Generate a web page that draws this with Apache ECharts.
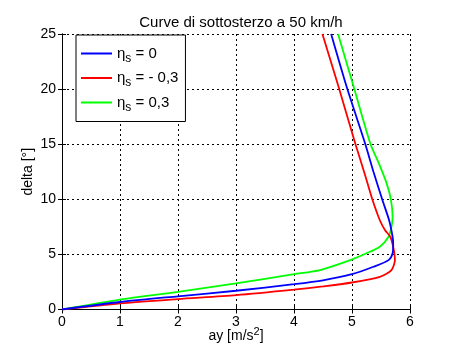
<!DOCTYPE html>
<html>
<head>
<meta charset="utf-8">
<script src="https://cdn.jsdelivr.net/npm/echarts@6/dist/echarts.min.js"></script>
<style>
html,body{margin:0;padding:0;background:#fff;}
#c{width:456px;height:349px;}
</style>
</head>
<body>
<div id="c"></div>
<script>
var titleText = 'Curve di sottosterzo a 50 km/h';
var xTicks = [0, 1, 2, 3, 4, 5, 6];
var yTicks = [0, 5, 10, 15, 20, 25];

var ayBlue    = [0, 1, 2, 3, 4, 4.5, 5.0, 5.37, 5.63, 5.70, 5.71, 5.70, 5.64, 5.52, 5.37, 5.23, 4.92, 4.64];
var deltaBlue = [0, 0.68, 1.2, 1.7, 2.3, 2.65, 3.2, 3.88, 4.48, 5.1, 6.0, 6.6, 8.1, 10, 12.5, 15, 20, 25];

var ayRed     = [0, 1, 2, 3, 4, 4.5, 5.0, 5.48, 5.68, 5.74, 5.71, 5.66, 5.57, 5.48, 5.35, 5.22, 5.06, 4.78, 4.49];
var deltaRed  = [0, 0.56, 0.95, 1.3, 1.8, 2.1, 2.45, 2.97, 3.58, 4.5, 5.7, 6.6, 7.2, 8.1, 10, 12.3, 15, 20, 25];

var ayGreen    = [0, 1, 2, 3, 4, 4.45, 4.97, 5.25, 5.48, 5.63, 5.68, 5.70, 5.67, 5.60, 5.46, 5.32, 5.04, 4.76];
var deltaGreen = [0, 0.9, 1.6, 2.37, 3.2, 3.58, 4.48, 5.1, 5.7, 6.6, 7.5, 8.4, 10, 11.4, 13.3, 15, 20, 25];

var seriesNames = ['eta0', 'etaNeg', 'etaPos'];
var seriesLabels = ['= 0', '= - 0,3', '= 0,3'];
var seriesColors = ['#0000ff', '#ff0000', '#00ff00'];

function pairs(xs, ys) { return xs.map(function (x, i) { return [x, ys[i]]; }); }

var FONT = '"Liberation Sans", Arial, sans-serif';
var chart = echarts.init(document.getElementById('c'), null, {renderer: 'canvas'});

var datasets = [pairs(ayBlue, deltaBlue), pairs(ayRed, deltaRed), pairs(ayGreen, deltaGreen)];

var axisCommon = {
  axisLine: {show: true, lineStyle: {color: '#000', width: 1}},
  axisTick: {show: true, inside: true, length: 4, lineStyle: {color: '#000'}},
  axisLabel: {color: '#000', fontSize: 14, fontFamily: FONT},
};

chart.setOption({
  animation: false,
  backgroundColor: '#fff',
  title: {
    text: titleText, left: 236, top: 10, textAlign: 'center',
    textStyle: {fontSize: 15, fontWeight: 'normal', color: '#000', fontFamily: FONT}
  },
  grid: {left: 62, right: 46, top: 34, bottom: 39.5, containLabel: false, outerBoundsMode: 'none'},
  legend: {
    left: 76, top: 35, orient: 'vertical',
    data: seriesNames,
    backgroundColor: '#fff', borderColor: '#000', borderWidth: 1,
    padding: [11, 7, 8, 5], itemGap: 6,
    itemWidth: 31, itemHeight: 2, icon: 'rect',
    formatter: function (n) {
      var i = seriesNames.indexOf(n);
      return '{e|η}{s|s}{t| ' + seriesLabels[i] + '}';
    },
    textStyle: {
      color: '#000', fontFamily: FONT,
      rich: {
        e: {fontSize: 15, fontFamily: FONT, color: '#000', height: 19},
        s: {fontSize: 12, fontFamily: FONT, color: '#000', padding: [10, 0, 0, 0]},
        t: {fontSize: 15, fontFamily: FONT, color: '#000'}
      }
    }
  },
  xAxis: [
    Object.assign({}, axisCommon, {
      type: 'value', min: 0, max: 6, interval: 1, position: 'bottom',
      name: '{a|ay [m/s}{p|2}{a|]}', nameLocation: 'middle', nameGap: 17,
      nameMoveOverlap: false,
      nameTextStyle: {
        rich: {
          a: {fontSize: 14, fontFamily: FONT, color: '#000'},
          p: {fontSize: 11, fontFamily: FONT, color: '#000', padding: [0, 0, 9, 0]}
        }
      },
      axisLabel: {color: '#000', fontSize: 14, fontFamily: FONT, margin: 6},
      splitLine: {show: true, lineStyle: {color: '#000', type: [2, 3], width: 1}}
    }),
    Object.assign({}, axisCommon, {
      type: 'value', min: 0, max: 6, interval: 1, position: 'top',
      axisLabel: {show: false}, splitLine: {show: false}
    })
  ],
  yAxis: [
    Object.assign({}, axisCommon, {
      type: 'value', min: 0, max: 25, interval: 5, position: 'left',
      name: 'delta [°]', nameLocation: 'middle', nameGap: 27, nameRotate: 90,
      nameMoveOverlap: false,
      nameTextStyle: {fontSize: 14, fontFamily: FONT, color: '#000'},
      axisLabel: {color: '#000', fontSize: 14, fontFamily: FONT, margin: 6},
      splitLine: {show: true, lineStyle: {color: '#000', type: [2, 3], width: 1}}
    }),
    Object.assign({}, axisCommon, {
      type: 'value', min: 0, max: 25, interval: 5, position: 'right',
      axisLabel: {show: false}, splitLine: {show: false}
    })
  ],
  series: seriesNames.map(function (n, i) {
    return {
      name: n, type: 'line', data: datasets[i], smooth: 0.25,
      showSymbol: false, symbol: 'none', clip: true,
      lineStyle: {color: seriesColors[i], width: 1.8},
      itemStyle: {color: seriesColors[i]},
      z: 3 - i
    };
  })
});
</script>
</body>
</html>
